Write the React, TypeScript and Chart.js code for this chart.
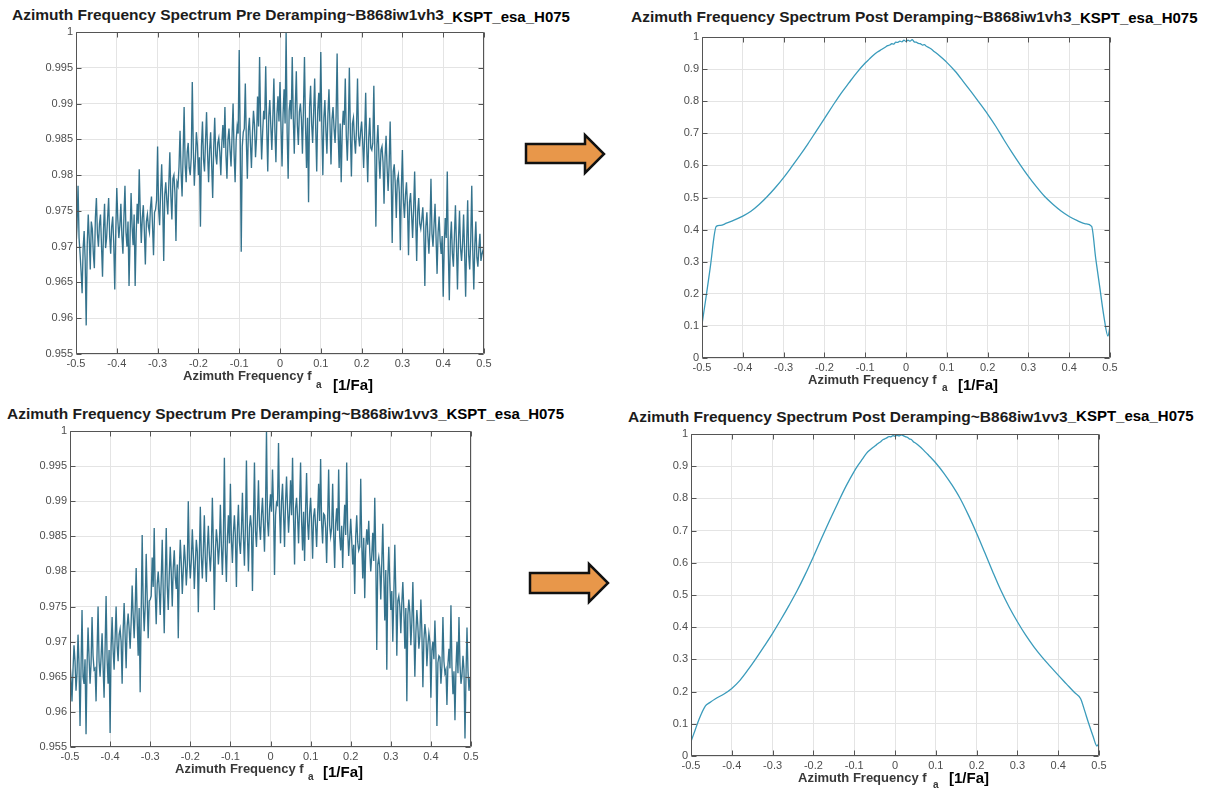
import React, { useEffect, useRef } from "react";
import { Chart, registerables } from "chart.js";
Chart.register(...registerables);

// ---------- tick values ----------
const xTickValues = [-0.5, -0.4, -0.3, -0.2, -0.1, 0, 0.1, 0.2, 0.3, 0.4, 0.5];
const preYTicks = [0.955, 0.96, 0.965, 0.97, 0.975, 0.98, 0.985, 0.99, 0.995, 1];
const postYTicks = [0, 0.1, 0.2, 0.3, 0.4, 0.5, 0.6, 0.7, 0.8, 0.9, 1];

// ---------- frequency grid of the pre-deramping spectra (step 0.0025 from -0.5) ----------
const preStep = 0.0025;

// ---------- series: pre deramping vh3 ----------
const preVh3 = [
  0.9700, 0.9728, 0.9785, 0.9712, 0.9690, 0.9665, 0.9635, 0.9698, 0.9722, 0.9680, 0.9590, 0.9702, 0.9745, 0.9710, 0.9668, 0.9735, 0.9725, 0.9690, 0.9670, 0.9740,
  0.9768, 0.9718, 0.9700, 0.9732, 0.9745, 0.9702, 0.9658, 0.9725, 0.9760, 0.9698, 0.9712, 0.9740, 0.9768, 0.9715, 0.9690, 0.9728, 0.9742, 0.9705, 0.9640, 0.9722,
  0.9782, 0.9738, 0.9712, 0.9730, 0.9760, 0.9715, 0.9690, 0.9742, 0.9785, 0.9720, 0.9700, 0.9735, 0.9645, 0.9712, 0.9775, 0.9728, 0.9702, 0.9745, 0.9645, 0.9718,
  0.9760, 0.9732, 0.9808, 0.9748, 0.9705, 0.9740, 0.9758, 0.9722, 0.9675, 0.9735, 0.9745, 0.9728, 0.9720, 0.9755, 0.9770, 0.9730, 0.9688, 0.9748, 0.9752, 0.9765,
  0.9840, 0.9752, 0.9730, 0.9778, 0.9815, 0.9760, 0.9680, 0.9772, 0.9790, 0.9765, 0.9745, 0.9788, 0.9832, 0.9770, 0.9738, 0.9795, 0.9800, 0.9775, 0.9708, 0.9790,
  0.9785, 0.9812, 0.9862, 0.9805, 0.9770, 0.9828, 0.9895, 0.9815, 0.9790, 0.9832, 0.9845, 0.9810, 0.9800, 0.9825, 0.9930, 0.9838, 0.9785, 0.9820, 0.9860, 0.9842,
  0.9800, 0.9825, 0.9728, 0.9840, 0.9875, 0.9822, 0.9805, 0.9848, 0.9888, 0.9830, 0.9790, 0.9835, 0.9860, 0.9815, 0.9768, 0.9838, 0.9880, 0.9828, 0.9815, 0.9845,
  0.9852, 0.9832, 0.9800, 0.9845, 0.9870, 0.9838, 0.9895, 0.9828, 0.9795, 0.9850, 0.9865, 0.9835, 0.9812, 0.9855, 0.9900, 0.9830, 0.9790, 0.9848, 0.9868, 0.9858,
  0.9975, 0.9850, 0.9693, 0.9840, 0.9860, 0.9865, 0.9928, 0.9848, 0.9795, 0.9862, 0.9880, 0.9845, 0.9810, 0.9858, 0.9890, 0.9870, 0.9825, 0.9852, 0.9910, 0.9868,
  0.9965, 0.9872, 0.9822, 0.9860, 0.9890, 0.9878, 0.9952, 0.9865, 0.9805, 0.9882, 0.9905, 0.9868, 0.9835, 0.9880, 0.9935, 0.9862, 0.9818, 0.9885, 0.9910, 0.9875,
  0.9930, 0.9868, 0.9812, 0.9885, 0.9920, 0.9872, 1.0000, 0.9860, 0.9795, 0.9890, 0.9905, 0.9878, 0.9965, 0.9882, 0.9830, 0.9895, 0.9945, 0.9870, 0.9842, 0.9888,
  0.9900, 0.9878, 0.9830, 0.9892, 0.9965, 0.9870, 0.9810, 0.9880, 0.9762, 0.9895, 0.9925, 0.9872, 0.9845, 0.9888, 0.9935, 0.9865, 0.9805, 0.9890, 0.9915, 0.9875,
  0.9972, 0.9868, 0.9800, 0.9880, 0.9905, 0.9862, 0.9830, 0.9885, 0.9920, 0.9870, 0.9815, 0.9878, 0.9895, 0.9865, 0.9845, 0.9882, 0.9970, 0.9860, 0.9810, 0.9872,
  0.9790, 0.9862, 0.9890, 0.9870, 0.9935, 0.9855, 0.9820, 0.9868, 0.9950, 0.9858, 0.9798, 0.9872, 0.9880, 0.9850, 0.9830, 0.9865, 0.9935, 0.9855, 0.9840, 0.9860,
  0.9875, 0.9848, 0.9810, 0.9855, 0.9915, 0.9840, 0.9790, 0.9852, 0.9880, 0.9838, 0.9835, 0.9845, 0.9925, 0.9830, 0.9728, 0.9842, 0.9870, 0.9825, 0.9795, 0.9835,
  0.9840, 0.9818, 0.9760, 0.9825, 0.9855, 0.9810, 0.9778, 0.9815, 0.9875, 0.9798, 0.9705, 0.9805, 0.9815, 0.9788, 0.9740, 0.9792, 0.9800, 0.9775, 0.9695, 0.9782,
  0.9835, 0.9765, 0.9740, 0.9772, 0.9790, 0.9755, 0.9688, 0.9762, 0.9775, 0.9745, 0.9712, 0.9752, 0.9805, 0.9740, 0.9680, 0.9748, 0.9768, 0.9732, 0.9725, 0.9738,
  0.9755, 0.9722, 0.9645, 0.9728, 0.9748, 0.9715, 0.9690, 0.9725, 0.9795, 0.9718, 0.9700, 0.9730, 0.9760, 0.9712, 0.9662, 0.9720, 0.9742, 0.9708, 0.9690, 0.9715,
  0.9630, 0.9700, 0.9740, 0.9712, 0.9805, 0.9695, 0.9625, 0.9708, 0.9735, 0.9690, 0.9672, 0.9715, 0.9758, 0.9702, 0.9640, 0.9710, 0.9750, 0.9698, 0.9680, 0.9705,
  0.9745, 0.9692, 0.9630, 0.9705, 0.9765, 0.9688, 0.9668, 0.9710, 0.9785, 0.9695, 0.9640, 0.9702, 0.9735, 0.9685, 0.9672, 0.9698, 0.9718, 0.9680, 0.9690, 0.9695,
  0.9685,
];

// ---------- series: pre deramping vv3 ----------
const preVv3 = [
  0.9670, 0.9648, 0.9615, 0.9660, 0.9695, 0.9672, 0.9630, 0.9655, 0.9710, 0.9668, 0.9580, 0.9662, 0.9745, 0.9650, 0.9640, 0.9675, 0.9568, 0.9665, 0.9720, 0.9678,
  0.9640, 0.9668, 0.9735, 0.9680, 0.9660, 0.9662, 0.9615, 0.9685, 0.9750, 0.9672, 0.9650, 0.9678, 0.9712, 0.9665, 0.9620, 0.9690, 0.9765, 0.9675, 0.9640, 0.9688,
  0.9570, 0.9692, 0.9735, 0.9688, 0.9660, 0.9705, 0.9750, 0.9695, 0.9672, 0.9710, 0.9718, 0.9700, 0.9640, 0.9715, 0.9755, 0.9708, 0.9662, 0.9722, 0.9740, 0.9718,
  0.9690, 0.9728, 0.9780, 0.9738, 0.9705, 0.9745, 0.9805, 0.9732, 0.9680, 0.9748, 0.9628, 0.9740, 0.9852, 0.9755, 0.9715, 0.9750, 0.9825, 0.9762, 0.9705, 0.9758,
  0.9760, 0.9765, 0.9820, 0.9778, 0.9862, 0.9770, 0.9725, 0.9782, 0.9800, 0.9775, 0.9738, 0.9788, 0.9845, 0.9772, 0.9712, 0.9790, 0.9862, 0.9780, 0.9745, 0.9795,
  0.9835, 0.9798, 0.9750, 0.9805, 0.9830, 0.9792, 0.9775, 0.9810, 0.9705, 0.9800, 0.9845, 0.9812, 0.9768, 0.9802, 0.9838, 0.9815, 0.9780, 0.9808, 0.9900, 0.9818,
  0.9790, 0.9815, 0.9860, 0.9825, 0.9775, 0.9812, 0.9845, 0.9828, 0.9742, 0.9820, 0.9892, 0.9822, 0.9790, 0.9830, 0.9880, 0.9818, 0.9785, 0.9832, 0.9865, 0.9825,
  0.9800, 0.9830, 0.9905, 0.9840, 0.9745, 0.9828, 0.9860, 0.9842, 0.9810, 0.9835, 0.9895, 0.9838, 0.9795, 0.9845, 0.9962, 0.9832, 0.9785, 0.9848, 0.9880, 0.9840,
  0.9925, 0.9845, 0.9812, 0.9855, 0.9880, 0.9848, 0.9778, 0.9860, 0.9895, 0.9842, 0.9825, 0.9858, 0.9912, 0.9850, 0.9808, 0.9865, 0.9958, 0.9852, 0.9800, 0.9862,
  0.9880, 0.9862, 0.9772, 0.9870, 0.9955, 0.9858, 0.9835, 0.9875, 0.9930, 0.9865, 0.9845, 0.9880, 0.9905, 0.9868, 0.9828, 0.9885, 1.0000, 0.9872, 0.9850, 0.9888,
  0.9910, 0.9885, 0.9945, 0.9892, 0.9795, 0.9880, 0.9898, 0.9895, 0.9983, 0.9888, 0.9840, 0.9900, 0.9925, 0.9882, 0.9835, 0.9898, 0.9935, 0.9890, 0.9855, 0.9885,
  0.9930, 0.9880, 0.9962, 0.9875, 0.9810, 0.9890, 0.9905, 0.9878, 0.9840, 0.9892, 0.9955, 0.9872, 0.9830, 0.9885, 0.9815, 0.9888, 0.9940, 0.9870, 0.9845, 0.9882,
  0.9905, 0.9870, 0.9818, 0.9878, 0.9890, 0.9865, 0.9835, 0.9880, 0.9925, 0.9872, 0.9960, 0.9868, 0.9840, 0.9882, 0.9880, 0.9862, 0.9812, 0.9875, 0.9945, 0.9866,
  0.9850, 0.9862, 0.9925, 0.9855, 0.9805, 0.9868, 0.9890, 0.9858, 0.9945, 0.9850, 0.9830, 0.9865, 0.9805, 0.9860, 0.9895, 0.9852, 0.9955, 0.9858, 0.9822, 0.9848,
  0.9875, 0.9845, 0.9810, 0.9838, 0.9768, 0.9850, 0.9880, 0.9842, 0.9830, 0.9835, 0.9932, 0.9840, 0.9790, 0.9848, 0.9762, 0.9832, 0.9860, 0.9838, 0.9872, 0.9828,
  0.9800, 0.9822, 0.9855, 0.9815, 0.9905, 0.9825, 0.9688, 0.9810, 0.9820, 0.9805, 0.9760, 0.9812, 0.9868, 0.9798, 0.9730, 0.9802, 0.9660, 0.9790, 0.9835, 0.9785,
  0.9745, 0.9772, 0.9700, 0.9765, 0.9838, 0.9770, 0.9680, 0.9758, 0.9765, 0.9750, 0.9712, 0.9755, 0.9785, 0.9745, 0.9690, 0.9748, 0.9615, 0.9738, 0.9760, 0.9742,
  0.9695, 0.9728, 0.9785, 0.9720, 0.9650, 0.9712, 0.9745, 0.9722, 0.9690, 0.9708, 0.9760, 0.9715, 0.9635, 0.9702, 0.9725, 0.9710, 0.9665, 0.9695, 0.9712, 0.9700,
  0.9620, 0.9688, 0.9700, 0.9675, 0.9730, 0.9682, 0.9580, 0.9670, 0.9680, 0.9678, 0.9640, 0.9665, 0.9735, 0.9672, 0.9655, 0.9660, 0.9610, 0.9668, 0.9690, 0.9662,
  0.9752, 0.9665, 0.9625, 0.9658, 0.9588, 0.9662, 0.9700, 0.9655, 0.9735, 0.9668, 0.9640, 0.9652, 0.9680, 0.9660, 0.9562, 0.9650, 0.9720, 0.9658, 0.9630, 0.9648,
  0.9650,
];

// ---------- frequencies of the post-deramping spectra ----------
const postX = [
  -0.5, -0.49, -0.48, -0.465, -0.455, -0.44, -0.42, -0.4, -0.38, -0.36,
  -0.34, -0.32, -0.3, -0.28, -0.26, -0.24, -0.22, -0.2, -0.18, -0.16,
  -0.14, -0.12, -0.1, -0.09, -0.08, -0.07, -0.06, -0.05, -0.045, -0.04,
  -0.035, -0.03, -0.025, -0.02, -0.015, -0.01, -0.005, 0, 0.005, 0.01,
  0.015, 0.02, 0.025, 0.03, 0.035, 0.04, 0.045, 0.05, 0.06, 0.07,
  0.08, 0.09, 0.1, 0.12, 0.14, 0.16, 0.18, 0.2, 0.22, 0.24,
  0.26, 0.28, 0.3, 0.32, 0.34, 0.36, 0.38, 0.4, 0.42, 0.44,
  0.455, 0.465, 0.475, 0.485, 0.495, 0.5,
];

// ---------- series: post deramping vh3 ----------
const postVh3 = [
  0.105, 0.19, 0.28, 0.41, 0.413, 0.42, 0.43, 0.442, 0.457, 0.478,
  0.503, 0.531, 0.562, 0.596, 0.631, 0.668, 0.707, 0.746, 0.785, 0.823,
  0.857, 0.89, 0.919, 0.931, 0.943, 0.953, 0.961, 0.969, 0.973, 0.975,
  0.979, 0.978, 0.984, 0.983, 0.987, 0.985, 0.99, 0.986, 0.99, 0.987,
  0.992, 0.985, 0.984, 0.98, 0.979, 0.975, 0.976, 0.971, 0.964, 0.954,
  0.944, 0.933, 0.921, 0.894, 0.862, 0.829, 0.795, 0.76, 0.722, 0.68,
  0.64, 0.602, 0.566, 0.533, 0.503, 0.479, 0.458, 0.441, 0.428, 0.418,
  0.41, 0.31, 0.22, 0.13, 0.068, 0.099,
];

// ---------- series: post deramping vv3 ----------
const postVv3 = [
  0.045, 0.08, 0.115, 0.155, 0.165, 0.178, 0.192, 0.21, 0.235, 0.268,
  0.304, 0.342, 0.381, 0.423, 0.467, 0.513, 0.564, 0.619, 0.676, 0.732,
  0.786, 0.838, 0.884, 0.904, 0.922, 0.94, 0.952, 0.962, 0.967, 0.972,
  0.976, 0.982, 0.985, 0.988, 0.992, 0.991, 0.995, 0.993, 0.996, 0.994,
  0.997, 0.995, 0.992, 0.99, 0.985, 0.983, 0.976, 0.972, 0.962, 0.95,
  0.937, 0.924, 0.91, 0.878, 0.841, 0.799, 0.748, 0.692, 0.632, 0.571,
  0.513, 0.462, 0.417, 0.376, 0.34, 0.308, 0.279, 0.251, 0.224, 0.197,
  0.178, 0.14, 0.1, 0.063, 0.031, 0.04,
];

const preXs = preVh3.map((_, i) => -0.5 + i * preStep);

const fmt = (v: number) => String(parseFloat(Number(v).toFixed(3)));

const boxPlugin = {
  id: "matlabBox",
  afterDatasetsDraw(chart: any) {
    const { ctx, chartArea: a, scales } = chart;
    const L = Math.round(a.left) + 0.5;
    const R = Math.round(a.right) - 0.5;
    const T = Math.round(a.top) + 0.5;
    const B = Math.round(a.bottom) - 0.5;
    ctx.save();
    ctx.strokeStyle = "#555555";
    ctx.lineWidth = 1;
    ctx.beginPath();
    ctx.rect(L, T, R - L, B - T);
    ctx.stroke();
    const tl = 5;
    ctx.beginPath();
    for (const t of scales.x.ticks) {
      const px = Math.round(scales.x.getPixelForValue(t.value)) + 0.5;
      ctx.moveTo(px, B);
      ctx.lineTo(px, B - tl);
      ctx.moveTo(px, T);
      ctx.lineTo(px, T + tl);
    }
    for (const t of scales.y.ticks) {
      const py = Math.round(scales.y.getPixelForValue(t.value)) + 0.5;
      ctx.moveTo(L, py);
      ctx.lineTo(L + tl, py);
      ctx.moveTo(R, py);
      ctx.lineTo(R - tl, py);
    }
    ctx.stroke();
    ctx.restore();
  },
};

type PanelProps = {
  l: number; t: number; r: number; b: number;
  xs: number[]; ys: number[];
  yMin: number; yMax: number; yTicks: number[];
  color: string; lw: number; smooth?: boolean;
};

function Panel(p: PanelProps) {
  const ref = useRef<HTMLCanvasElement>(null);
  const padL = 70, padT = 12, padR = 20, padB = 22;
  const w = p.r - p.l + padL + padR;
  const h = p.b - p.t + padT + padB;
  useEffect(() => {
    const tickFont = { family: "'Liberation Sans', Arial, sans-serif", size: 11 };
    const chart = new Chart(ref.current as HTMLCanvasElement, {
      type: "line",
      data: {
        datasets: [
          {
            data: p.xs.map((x, i) => ({ x, y: p.ys[i] })),
            borderColor: p.color,
            borderWidth: p.lw,
            pointRadius: 0,
            tension: 0,
            cubicInterpolationMode: p.smooth ? "monotone" : "default",
            fill: false,
          },
        ],
      },
      options: {
        animation: false,
        responsive: false,
        maintainAspectRatio: false,
        devicePixelRatio: 1,
        layout: { padding: { left: 0, top: padT, right: padR, bottom: 0 } },
        plugins: { legend: { display: false }, tooltip: { enabled: false }, title: { display: false } },
        scales: {
          x: {
            type: "linear",
            min: -0.5,
            max: 0.5,
            afterBuildTicks: (s: any) => { s.ticks = xTickValues.map((v) => ({ value: v })); },
            afterFit: (s: any) => { s.height = padB; },
            grid: { color: "#e4e4e4", drawTicks: false, lineWidth: 1 },
            border: { display: false },
            ticks: { padding: 3, color: "#4d4d4d", font: tickFont, maxRotation: 0, autoSkip: false, callback: (v: any) => fmt(v) },
          },
          y: {
            type: "linear",
            min: p.yMin,
            max: p.yMax,
            afterBuildTicks: (s: any) => { s.ticks = p.yTicks.map((v) => ({ value: v })); },
            afterFit: (s: any) => { s.width = padL; },
            grid: { color: "#e4e4e4", drawTicks: false, lineWidth: 1 },
            border: { display: false },
            ticks: { padding: 3, color: "#4d4d4d", font: tickFont, autoSkip: false, callback: (v: any) => fmt(v) },
          },
        },
      } as any,
      plugins: [boxPlugin],
    });
    return () => chart.destroy();
  }, []);
  return (
    <canvas
      ref={ref}
      width={w}
      height={h}
      style={{ position: "absolute", left: p.l - padL, top: p.t - padT, width: w, height: h }}
    />
  );
}

const SANS = "'Liberation Sans', Arial, Helvetica, sans-serif";

function Title(props: { x: number; cy: number; main: string; tail: string; tailDy: number }) {
  return (
    <div style={{ position: "absolute", left: props.x, top: props.cy - 9, height: 18, whiteSpace: "nowrap", fontFamily: SANS }}>
      <span style={{ fontSize: 15.5, fontWeight: 700, color: "#1c1c1c", lineHeight: "18px" }}>{props.main}</span>
      <span style={{ fontSize: 15, fontWeight: 700, color: "#000", lineHeight: "18px", position: "relative", top: props.tailDy }}>{props.tail}</span>
    </div>
  );
}

function XTitle(props: { left: number; cy: number; subX: number; subCy: number; brLeft: number; brCy: number }) {
  return (
    <>
      <div style={{ position: "absolute", left: props.left, top: props.cy - 7, lineHeight: "14px", fontSize: 13, fontWeight: 700, color: "#383838", fontFamily: SANS, whiteSpace: "nowrap" }}>
        Azimuth Frequency f
      </div>
      <div style={{ position: "absolute", left: props.subX, top: props.subCy - 5, lineHeight: "10px", fontSize: 10, fontWeight: 700, color: "#383838", fontFamily: SANS }}>
        a
      </div>
      <div style={{ position: "absolute", left: props.brLeft, top: props.brCy - 8, lineHeight: "16px", fontSize: 15, fontWeight: 700, color: "#000", fontFamily: SANS, whiteSpace: "nowrap" }}>
        [1/Fa]
      </div>
    </>
  );
}

const PRE_COLOR = "rgba(8,84,116,0.82)";
const POST_COLOR = "#3a9bbb";

export default function App() {
  return (
    <div style={{ position: "absolute", left: 0, top: 0, width: 1221, height: 793, background: "#fff", overflow: "hidden" }}>
      <Title x={12} cy={15} main="Azimuth Frequency Spectrum Pre Deramping~B868iw1vh3" tail="_KSPT_esa_H075" tailDy={2} />
      <Title x={631} cy={17} main="Azimuth Frequency Spectrum Post Deramping~B868iw1vh3" tail="_KSPT_esa_H075" tailDy={1} />
      <Title x={7} cy={414} main="Azimuth Frequency Spectrum Pre Deramping~B868iw1vv3" tail="_KSPT_esa_H075" tailDy={0} />
      <Title x={628} cy={417} main="Azimuth Frequency Spectrum Post Deramping~B868iw1vv3" tail="_KSPT_esa_H075" tailDy={-1} />

      <Panel l={76} t={32} r={484} b={354} xs={preXs} ys={preVh3} yMin={0.955} yMax={1} yTicks={preYTicks} color={PRE_COLOR} lw={1.35} />
      <Panel l={702} t={37} r={1110} b={358} xs={postX} ys={postVh3} yMin={0} yMax={1} yTicks={postYTicks} color={POST_COLOR} lw={1.3} smooth />
      <Panel l={70} t={431} r={471} b={747} xs={preXs} ys={preVv3} yMin={0.955} yMax={1} yTicks={preYTicks} color={PRE_COLOR} lw={1.35} />
      <Panel l={691} t={434} r={1099} b={756} xs={postX} ys={postVv3} yMin={0} yMax={1} yTicks={postYTicks} color={POST_COLOR} lw={1.3} smooth />

      <XTitle left={183} cy={376} subX={316} subCy={385} brLeft={333} brCy={385} />
      <XTitle left={808} cy={380} subX={942} subCy={388} brLeft={958} brCy={385} />
      <XTitle left={175} cy={769} subX={308} subCy={777} brLeft={323} brCy={772} />
      <XTitle left={798} cy={778} subX={933} subCy={785} brLeft={949} brCy={778} />

      <svg width={1221} height={793} style={{ position: "absolute", left: 0, top: 0, pointerEvents: "none" }}>
        <polygon points="526,144 585,144 585,135 604,154 585,173 585,163 526,163" fill="#E8974A" stroke="#111" strokeWidth={2.5} />
        <polygon points="530,573 589,573 589,564 608,583 589,602 589,593 530,593" fill="#E8974A" stroke="#111" strokeWidth={2.5} />
      </svg>
    </div>
  );
}
